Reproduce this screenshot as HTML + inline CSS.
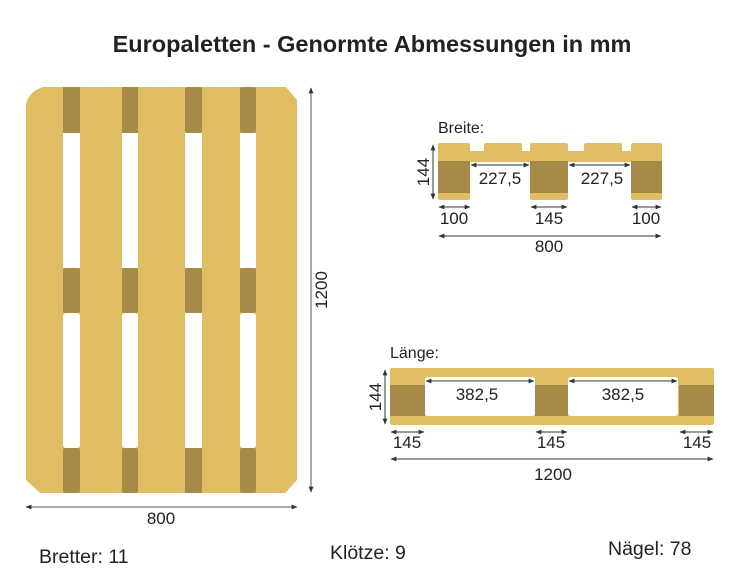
<!DOCTYPE html>
<html><head><style>
body{margin:0;background:#fff;}
svg text{font-family:"Liberation Sans",sans-serif;fill:#222;}
</style></head><body>
<svg width="740" height="580" viewBox="0 0 740 580" xmlns="http://www.w3.org/2000/svg">
<defs>
<marker id="a" viewBox="0 0 10 10" refX="9" refY="5" markerWidth="6" markerHeight="6" orient="auto-start-reverse"><path d="M0,1 L10,5 L0,9z" fill="#333"/></marker>
</defs>
<text x="372" y="52" text-anchor="middle" font-size="23.5" font-weight="bold">Europaletten - Genormte Abmessungen in mm</text>
<!-- top view -->
<path d="M44,87 L286,87 L297,100 L297,480 L285,493 L40,493 L26,480 L26,104 Q30,90 44,87 Z" fill="#e0bd62"/>
<g fill="#fff">
<rect x="63" y="133" width="17" height="135"/><rect x="122" y="133" width="16" height="135"/><rect x="185" y="133" width="17" height="135"/><rect x="240" y="133" width="16" height="135"/>
<rect x="63" y="313" width="17" height="135" rx="3"/><rect x="122" y="313" width="16" height="135" rx="3"/><rect x="185" y="313" width="17" height="135"/><rect x="240" y="313" width="16" height="135" rx="3"/>
</g>
<g fill="#a68b48">
<rect x="63" y="87" width="17" height="46"/><rect x="122" y="87" width="16" height="46"/><rect x="185" y="87" width="17" height="46" rx="2"/><rect x="240" y="87" width="16" height="46" rx="2"/>
<rect x="63" y="268" width="17" height="45" rx="2"/><rect x="122" y="268" width="16" height="45" rx="2"/><rect x="185" y="268" width="17" height="45" rx="2"/><rect x="240" y="268" width="16" height="45" rx="2"/>
<rect x="63" y="448" width="17" height="45" rx="2"/><rect x="122" y="448" width="16" height="45" rx="2"/><rect x="185" y="448" width="17" height="45"/><rect x="240" y="448" width="16" height="45" rx="2"/>
</g>
<line x1="311" y1="88" x2="311" y2="492" stroke="#555" marker-start="url(#a)" marker-end="url(#a)"/>
<text x="329" y="290" font-size="17" text-anchor="middle" transform="rotate(-90 329 290)" dy="-2">1200</text>
<line x1="26" y1="507" x2="297" y2="507" stroke="#555" marker-start="url(#a)" marker-end="url(#a)"/>
<text x="161" y="524" font-size="17" text-anchor="middle">800</text>
<!-- Breite -->
<text x="438" y="133" font-size="16">Breite:</text>
<g fill="#e0bd62">
<rect x="438" y="151" width="224" height="11"/>
<rect x="438" y="143" width="32" height="12" rx="2"/><rect x="484" y="143" width="38" height="12" rx="2"/><rect x="530" y="143" width="38" height="12" rx="2"/><rect x="584" y="143" width="38" height="12" rx="2"/><rect x="631" y="143" width="31" height="12" rx="2"/>
<rect x="438" y="155" width="32" height="45" rx="2"/><rect x="530" y="155" width="38" height="45" rx="2"/><rect x="631" y="155" width="31" height="45" rx="2"/>
</g>
<g fill="#a68b48"><rect x="438" y="161" width="32" height="32"/><rect x="530" y="161" width="38" height="32"/><rect x="631" y="161" width="31" height="32"/></g>
<g stroke="#333" fill="none">
<line x1="433" y1="145" x2="433" y2="199" marker-start="url(#a)" marker-end="url(#a)"/>
<line x1="471" y1="165" x2="529" y2="165" marker-start="url(#a)" marker-end="url(#a)"/>
<line x1="569" y1="165" x2="630" y2="165" marker-start="url(#a)" marker-end="url(#a)"/>
<line x1="439" y1="207" x2="470" y2="207" marker-start="url(#a)" marker-end="url(#a)"/>
<line x1="531" y1="207" x2="567" y2="207" marker-start="url(#a)" marker-end="url(#a)"/>
<line x1="632" y1="207" x2="661" y2="207" marker-start="url(#a)" marker-end="url(#a)"/>
<line x1="439" y1="236" x2="661" y2="236" marker-start="url(#a)" marker-end="url(#a)"/>
</g>
<text x="424" y="172" font-size="17" text-anchor="middle" transform="rotate(-90 424 172)" dy="5">144</text>
<text x="500" y="184" font-size="17" text-anchor="middle">227,5</text>
<text x="602" y="184" font-size="17" text-anchor="middle">227,5</text>
<text x="454" y="224" font-size="17" text-anchor="middle">100</text>
<text x="549" y="224" font-size="17" text-anchor="middle">145</text>
<text x="646" y="224" font-size="17" text-anchor="middle">100</text>
<text x="549" y="252" font-size="17" text-anchor="middle">800</text>
<!-- Länge -->
<text x="390" y="358" font-size="16">Länge:</text>
<rect x="390" y="368" width="324" height="57" rx="2" fill="#e0bd62"/>
<g fill="#fff"><rect x="425" y="377" width="110" height="39" rx="3"/><rect x="568" y="377" width="110" height="39" rx="3"/></g>
<g fill="#a68b48"><rect x="390" y="385" width="35" height="31"/><rect x="535" y="385" width="33" height="31"/><rect x="679" y="385" width="35" height="31"/></g>
<g stroke="#333" fill="none">
<line x1="385" y1="370" x2="385" y2="424" marker-start="url(#a)" marker-end="url(#a)"/>
<line x1="426" y1="381" x2="534" y2="381" marker-start="url(#a)" marker-end="url(#a)"/>
<line x1="569" y1="381" x2="677" y2="381" marker-start="url(#a)" marker-end="url(#a)"/>
<line x1="391" y1="432" x2="424" y2="432" marker-start="url(#a)" marker-end="url(#a)"/>
<line x1="536" y1="432" x2="567" y2="432" marker-start="url(#a)" marker-end="url(#a)"/>
<line x1="680" y1="432" x2="713" y2="432" marker-start="url(#a)" marker-end="url(#a)"/>
<line x1="391" y1="459" x2="713" y2="459" marker-start="url(#a)" marker-end="url(#a)"/>
</g>
<text x="376" y="397" font-size="17" text-anchor="middle" transform="rotate(-90 376 397)" dy="5">144</text>
<text x="477" y="400" font-size="17" text-anchor="middle">382,5</text>
<text x="623" y="400" font-size="17" text-anchor="middle">382,5</text>
<text x="407" y="448" font-size="17" text-anchor="middle">145</text>
<text x="551" y="448" font-size="17" text-anchor="middle">145</text>
<text x="697" y="448" font-size="17" text-anchor="middle">145</text>
<text x="553" y="480" font-size="17" text-anchor="middle">1200</text>
<text x="39" y="563" font-size="19.5">Bretter: 11</text>
<text x="330" y="559" font-size="19.5">Klötze: 9</text>
<text x="608" y="555" font-size="19.5">Nägel: 78</text>
</svg>
</body></html>
